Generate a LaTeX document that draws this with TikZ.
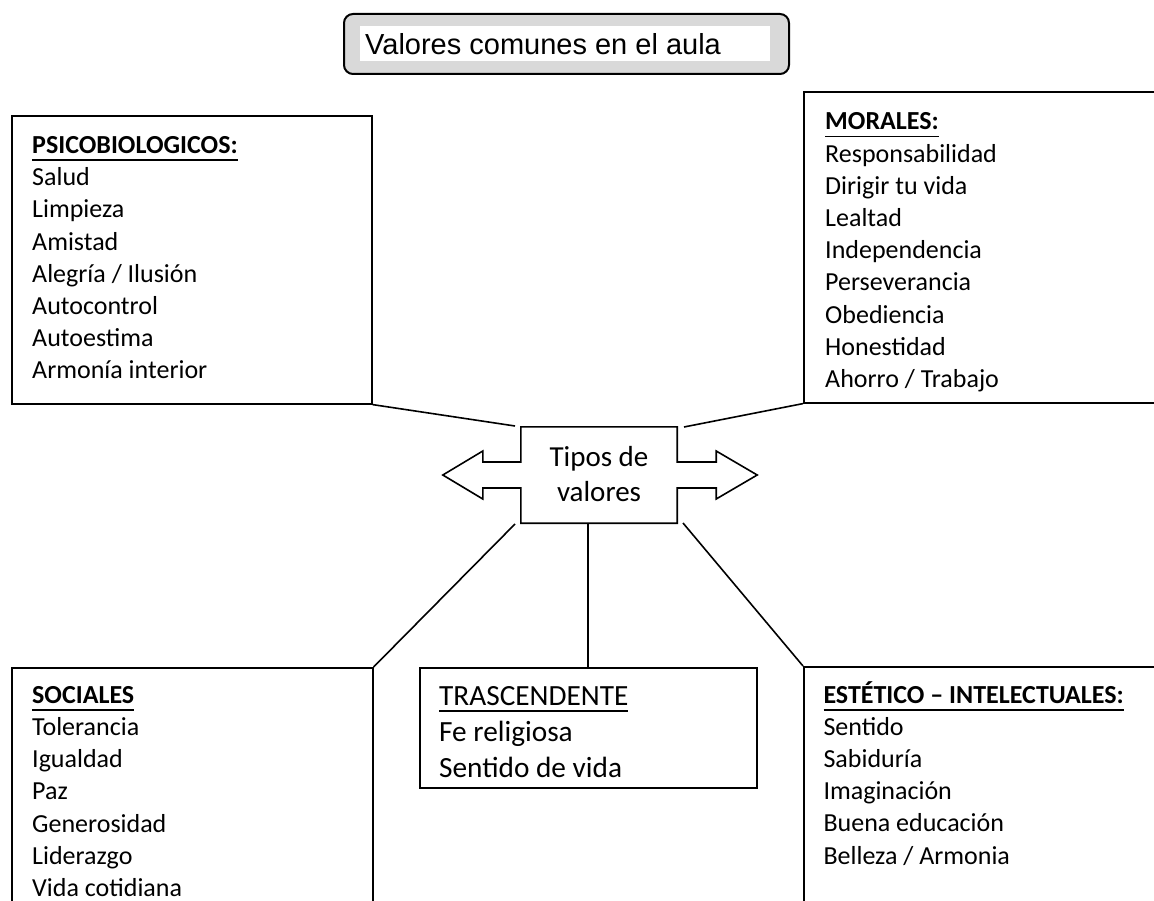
\documentclass[tikz,border=0pt]{standalone}
\usepackage{fontspec}
\setmainfont{Carlito}
\newfontfamily\arialfont{Liberation Sans}
\usetikzlibrary{calc}
\definecolor{titlegray}{HTML}{D9D9D9}
% underlined heading: #1 = depth of the rule below the baseline
\newcommand\headline[2][7.5pt]{\leavevmode\setbox0\hbox{#2}\rlap{\rule[-#1]{\wd0}{1.8pt}}\box0}
\tikzset{
  frame/.style={draw, line width=1.6pt, rectangle, inner sep=0pt, anchor=north west},
  listtext/.style={anchor=base west, inner sep=0pt},
  link/.style={line width=1.6pt},
}
\begin{document}
\begin{tikzpicture}[x=1pt, y=-1pt]
  \path[use as bounding box] (0,0) rectangle (1154,901);
  \clip (0,0) rectangle (1154,901);

  % title
  \node[draw, line width=2pt, rounded corners=9pt, fill=titlegray, inner sep=0pt,
        minimum width=445pt, minimum height=60pt, anchor=north west] (title) at (343,13) {};
  \node[fill=white, inner sep=0pt, minimum width=410pt, minimum height=35pt,
        anchor=north west] (titleband) at (360,26) {};
  \node[anchor=base west, inner sep=0pt] (titletxt) at (365,55)
    {\arialfont\fontsize{29}{34}\selectfont Valores comunes en el aula};

  % category boxes
  \node[frame, minimum width=360pt, minimum height=288pt] (psico) at (11,115) {};
  \node[frame, minimum width=400pt, minimum height=311pt] (morales) at (803,91) {};
  \node[frame, minimum width=361pt, minimum height=300pt] (sociales) at (11,667) {};
  \node[frame, minimum width=337pt, minimum height=120pt] (trasc) at (419,667) {};
  \node[frame, minimum width=400pt, minimum height=300pt] (estetico) at (803,666) {};

  \node[listtext] (psicotxt) at (32,153.5) {\parbox[t]{330pt}{\raggedright\fontsize{26}{32.2}\selectfont
    \headline{\textbf{PSICOBIOLOGICOS:}}\\ Salud\\ Limpieza\\ Amistad\\ Alegría / Ilusión\\
    Autocontrol\\ Autoestima\\ Armonía interior}};
  \node[listtext] (moralestxt) at (825,130) {\parbox[t]{320pt}{\raggedright\fontsize{26}{32.2}\selectfont
    \headline{\textbf{MORALES:}}\\ Responsabilidad\\ Dirigir tu vida\\ Lealtad\\ Independencia\\
    Perseverancia\\ Obediencia\\ Honestidad\\ Ahorro / Trabajo}};
  \node[listtext] (socialestxt) at (32,703.3) {\parbox[t]{330pt}{\raggedright\fontsize{26}{32.2}\selectfont
    \headline{\textbf{SOCIALES}}\\ Tolerancia\\ Igualdad\\ Paz\\ Generosidad\\ Liderazgo\\ Vida cotidiana}};
  \node[listtext] (esteticotxt) at (823.3,703) {\parbox[t]{330pt}{\raggedright\fontsize{26}{32.2}\selectfont
    \headline{\textbf{ESTÉTICO – INTELECTUALES:}}\\ Sentido\\ Sabiduría\\ Imaginación\\
    Buena educación\\ Belleza / Armonia}};
  \begin{scope}
    \clip (419,667) rectangle (756,777);
    \node[listtext] (trasctxt) at (439,705.7) {\parbox[t]{310pt}{\raggedright\fontsize{29.3}{36}\selectfont
      \headline[6pt]{TRASCENDENTE}\\ Fe religiosa\\ Sentido de vida}};
  \end{scope}

  % central double arrow
  \node[inner sep=0pt, minimum width=156pt, minimum height=96pt] (tipos) at (599,475) {};
  \draw[link, line join=miter]
    (tipos.north west) -- (tipos.north east) -- ($(tipos.east)+(0,-13)$) -- ++(39,0) -- ++(0,-11)
    -- ($(tipos.east)+(80,0)$) -- ($(tipos.east)+(39,24)$) -- ++(0,-11) -- ($(tipos.east)+(0,13)$)
    -- (tipos.south east) -- (tipos.south west) -- ($(tipos.west)+(0,13)$) -- ++(-38,0) -- ++(0,11)
    -- ($(tipos.west)+(-78,0)$) -- ($(tipos.west)+(-38,-24)$) -- ++(0,11) -- ($(tipos.west)+(0,-13)$)
    -- cycle;
  \node[anchor=base, inner sep=0pt] (tipostxt) at (599,466)
    {\parbox[t]{150pt}{\centering\fontsize{29}{35.7}\selectfont Tipos de\\ valores}};

  % connectors
  \coordinate (ctl) at (515,426);
  \coordinate (ctr) at (684,427);
  \coordinate (cbl) at (515,524);
  \coordinate (cbm) at (588,523);
  \coordinate (cbr) at (683,523);
  \draw[link] (psico.south east) -- (ctl);
  \draw[link] (morales.south west) -- (ctr);
  \draw[link] (cbl) -- (sociales.north east);
  \draw[link] (cbm) -- (cbm |- trasc.north);
  \draw[link] (cbr) -- (estetico.north west);
\end{tikzpicture}
\end{document}
